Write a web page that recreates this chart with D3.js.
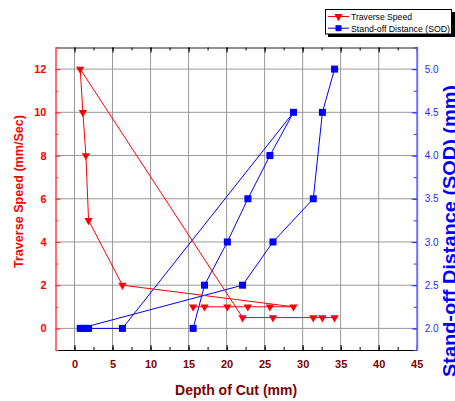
<!DOCTYPE html>
<html>
<head>
<meta charset="utf-8">
<script src="https://cdn.jsdelivr.net/npm/d3@7"></script>
<style>
body { margin: 0; background: #fff; }
text { font-family: "Liberation Sans", Arial, sans-serif; }
</style>
</head>
<body>
<div id="visContainer"></div>
<script>
'use strict';
// data
var depth = [34.2, 32.6, 31.4, 26.1, 22.1, 0.75, 1.1, 1.5, 1.85, 6.3, 28.8, 25.7, 22.8, 20.1, 17.1, 15.6];
var speed = [0.5, 0.5, 0.5, 0.5, 0.5, 12, 10, 8, 5, 2, 1, 1, 1, 1, 1, 1];
var sod = [5.0, 4.5, 3.5, 3.0, 2.5, 2.0, 2.0, 2.0, 2.0, 2.0, 4.5, 4.0, 3.5, 3.0, 2.5, 2.0];
var xTicks = [0, 5, 10, 15, 20, 25, 30, 35, 40, 45];
var yLeftTicks = [0, 2, 4, 6, 8, 10, 12];
var yRightTicks = [2.0, 2.5, 3.0, 3.5, 4.0, 4.5, 5.0];

var width = 455;
var height = 401;
var plot = { left: 55.5, right: 416.7, top: 47.5, bottom: 350 };

var svg = d3.select('#visContainer')
    .append('svg')
    .attr('width', width)
    .attr('height', height);

var x = d3.scaleLinear().domain([-2.5, 45]).range([plot.left, plot.right]);
var yL = d3.scaleLinear().domain([-1, 13]).range([plot.bottom, plot.top]);
var yR = d3.scaleLinear().domain([1.75, 5.25]).range([plot.bottom, plot.top]);

var xMinor = d3.range(-2.5, 45.01, 2.5);
var yLMinor = d3.range(-1, 13.01, 1);
var yRMinor = d3.range(1.75, 5.251, 0.25);

// grid
svg.append('g').selectAll('line').data(xTicks.slice(0, -1)).enter().append('line')
    .attr('x1', function(d) { return x(d); }).attr('x2', function(d) { return x(d); })
    .attr('y1', plot.top).attr('y2', plot.bottom)
    .attr('stroke', '#999').attr('stroke-width', 1);
svg.append('g').selectAll('line').data(yLeftTicks).enter().append('line')
    .attr('y1', function(d) { return yL(d); }).attr('y2', function(d) { return yL(d); })
    .attr('x1', plot.left).attr('x2', plot.right)
    .attr('stroke', '#999').attr('stroke-width', 1);

// bottom axis
var bottomAxis = svg.append('g')
    .attr('transform', 'translate(0,' + plot.bottom + ')')
    .call(d3.axisBottom(x).tickValues(xTicks).tickSizeInner(-5).tickSizeOuter(0).tickPadding(10));
bottomAxis.select('.domain').attr('stroke', '#000');
bottomAxis.selectAll('.tick line').attr('stroke', '#000');
bottomAxis.selectAll('text').attr('fill', '#800000').attr('font-weight', 'bold').attr('font-size', 11);
svg.append('g').attr('transform', 'translate(0,' + plot.bottom + ')')
    .call(d3.axisBottom(x).tickValues(xMinor).tickSize(-3).tickFormat(''))
    .call(function(g) { g.select('.domain').remove(); });

// top axis
svg.append('g').attr('transform', 'translate(0,' + plot.top + ')')
    .call(d3.axisTop(x).tickValues(xTicks).tickSize(-5).tickFormat(''))
    .call(function(g) { g.select('.domain').attr('stroke', '#222'); });
svg.append('g').attr('transform', 'translate(0,' + plot.top + ')')
    .call(d3.axisTop(x).tickValues(xMinor).tickSize(-3).tickFormat(''))
    .call(function(g) { g.select('.domain').remove(); });

// left axis
var leftAxis = svg.append('g')
    .attr('transform', 'translate(' + plot.left + ',0)')
    .call(d3.axisLeft(yL).tickValues(yLeftTicks).tickSizeInner(-5).tickSizeOuter(0).tickPadding(9));
leftAxis.select('.domain').attr('stroke', '#ff7070').attr('stroke-width', 2);
leftAxis.selectAll('.tick line').attr('stroke', '#ff3030');
leftAxis.selectAll('text').attr('fill', '#ff0000').attr('font-weight', 'bold').attr('font-size', 11);
svg.append('g').attr('transform', 'translate(' + plot.left + ',0)')
    .call(d3.axisLeft(yL).tickValues(yLMinor).tickSize(-3).tickFormat(''))
    .call(function(g) { g.select('.domain').remove(); g.selectAll('line').attr('stroke', '#ff3030'); });

// right axis
var rightAxis = svg.append('g')
    .attr('transform', 'translate(' + plot.right + ',0)')
    .call(d3.axisRight(yR).tickValues(yRightTicks).tickFormat(d3.format('.1f')).tickSizeInner(-5).tickSizeOuter(0).tickPadding(8));
rightAxis.select('.domain').attr('stroke', '#7070ff').attr('stroke-width', 2);
rightAxis.selectAll('.tick line').attr('stroke', '#3030ff');
rightAxis.selectAll('text').attr('fill', '#2828ff').attr('font-size', 10);
svg.append('g').attr('transform', 'translate(' + plot.right + ',0)')
    .call(d3.axisRight(yR).tickValues(yRMinor).tickSize(-3).tickFormat(''))
    .call(function(g) { g.select('.domain').remove(); g.selectAll('line').attr('stroke', '#3030ff'); });

// axis titles
svg.append('text')
    .attr('x', (plot.left + plot.right) / 2).attr('y', 395)
    .attr('text-anchor', 'middle').attr('font-weight', 'bold').attr('font-size', 14)
    .attr('fill', '#800000').text('Depth of Cut (mm)');
svg.append('text')
    .attr('transform', 'translate(23,191.5) rotate(-90)')
    .attr('text-anchor', 'middle').attr('font-weight', 'bold').attr('font-size', 13.5)
    .attr('textLength', 153).attr('lengthAdjust', 'spacingAndGlyphs')
    .attr('fill', '#ff0000').text('Traverse Speed (mm/Sec)');
svg.append('text')
    .attr('transform', 'translate(456,231) rotate(-90)')
    .attr('text-anchor', 'middle').attr('font-weight', 'bold').attr('font-size', 18)
    .attr('textLength', 292).attr('lengthAdjust', 'spacingAndGlyphs')
    .attr('fill', '#0000ff').text('Stand-off Distance (SOD) (mm)');

// series
var speedData = depth.map(function(d, i) { return [d, speed[i]]; });
var sodData = depth.map(function(d, i) { return [d, sod[i]]; });

var tri = d3.symbol().type(d3.symbolTriangle).size(30);

function drawSeries(data, yScale, color, marker) {
    var line = d3.line()
        .x(function(d) { return x(d[0]); })
        .y(function(d) { return yScale(d[1]); });
    svg.append('path')
        .attr('d', line(data))
        .attr('fill', 'none')
        .attr('stroke', color)
        .attr('stroke-width', 1);
    var g = svg.append('g');
    data.forEach(function(d) {
        if (marker == 'tri') {
            g.append('path')
                .attr('d', tri())
                .attr('transform', 'translate(' + x(d[0]) + ',' + yScale(d[1]) + ') rotate(180)')
                .attr('fill', color);
        } else {
            g.append('rect')
                .attr('x', x(d[0]) - 3.5).attr('y', yScale(d[1]) - 3.5)
                .attr('width', 7).attr('height', 7)
                .attr('fill', color);
        }
    });
}
drawSeries(sodData, yR, '#0000ff', 'sq');
drawSeries(speedData, yL, '#ff0000', 'tri');

// legend
var leg = svg.append('g');
leg.append('rect').attr('x', 328).attr('y', 12).attr('width', 127).attr('height', 25).attr('fill', '#000');
leg.append('rect').attr('x', 325.5).attr('y', 9.5).attr('width', 126).attr('height', 24.5)
    .attr('fill', '#fff').attr('stroke', '#000').attr('stroke-width', 1);
var legItems = [['Traverse Speed', '#ff0000', 'tri', 61], ['Stand-off Distance (SOD)', '#0000ff', 'sq', 99]];
legItems.forEach(function(item, i) {
    var yy = 16.5 + i * 11.7;
    leg.append('line').attr('x1', 328).attr('x2', 349).attr('y1', yy).attr('y2', yy)
        .attr('stroke', item[1]).attr('stroke-width', 1);
    if (item[2] == 'tri') {
        leg.append('path').attr('d', tri()).attr('fill', item[1])
            .attr('transform', 'translate(338.5,' + yy + ') rotate(180)');
    } else {
        leg.append('rect').attr('x', 335.5).attr('y', yy - 3).attr('width', 6).attr('height', 6).attr('fill', item[1]);
    }
    leg.append('text').attr('x', 351).attr('y', yy + 3.5)
        .attr('font-size', 9.5).attr('fill', '#000')
        .attr('textLength', item[3]).attr('lengthAdjust', 'spacingAndGlyphs')
        .text(item[0]);
});
</script>
</body>
</html>
